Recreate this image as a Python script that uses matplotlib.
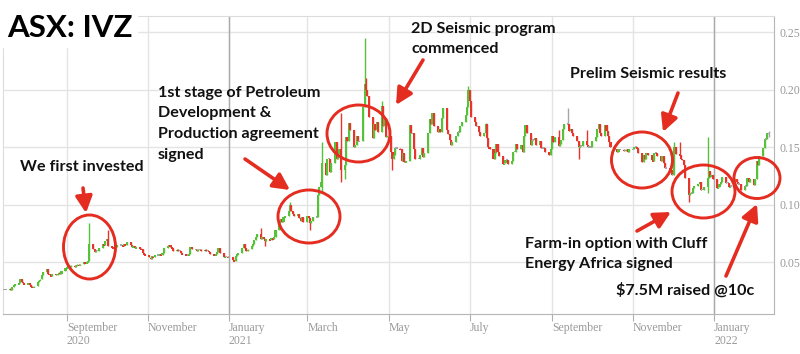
import matplotlib
matplotlib.use('Agg')
import matplotlib.pyplot as plt
import matplotlib.dates as mdates
import matplotlib.transforms as mtransforms
from matplotlib.patches import Ellipse, Rectangle
import numpy as np
import pandas as pd

# ---------------- data (daily closes in cents, business days from 2020-07-16) ----------------
closes_2020 = [
    2.6, 2.6,
    2.7, 2.6, 2.8, 3.0, 3.1,
    3.2, 3.5, 3.3, 3.2, 3.1,
    3.2, 3.0, 2.9, 2.8, 2.9,
    3.3, 3.4, 3.5, 3.9, 4.1,
    4.4, 4.0, 3.9, 3.8, 4.0,
    3.9, 4.0, 4.1, 4.0, 4.2,
    4.5, 4.6, 4.7, 4.6, 4.7,
    4.6, 4.7, 4.8, 4.7, 4.8,
    5.0, 4.9, 5.0, 5.1, 6.6,
    6.1, 5.9, 6.0, 6.0, 6.2,
    6.6, 6.5, 6.8, 7.0, 6.4,
    6.3, 6.2, 6.3, 6.3, 6.5,
    6.5, 6.4, 6.6, 6.5, 6.7,
    6.5, 6.3, 6.4, 6.2, 6.3,
    6.2, 6.1, 5.8, 5.7, 5.6,
    5.4, 5.3, 5.5, 5.4, 5.6,
    5.6, 5.7, 5.6, 5.8, 6.2,
    6.4, 6.5, 6.3, 6.2, 6.0,
    6.1, 6.0, 6.0, 5.8, 5.7,
    5.6, 5.6, 5.7, 6.3, 6.1,
    6.1, 6.0, 6.1, 6.1, 6.0,
    6.1, 6.0, 6.0, 5.9, 5.7,
    5.6, 5.7, 5.9, 6.2, 5.8,
    5.4, 5.5, 5.5, 5.4, 5.4,
]
closes_2021 = [
    5.2, 5.1, 5.5, 5.7, 5.8,
    6.2, 6.6, 6.2, 6.0, 6.1,
    6.4, 6.6, 6.9, 7.2, 7.4,
    7.0, 7.2, 7.0, 6.8, 7.0,
    6.9, 7.1, 7.0, 7.2, 7.8,
    8.5, 8.7, 8.5, 8.9, 9.0,
    9.4, 10.0, 9.4, 9.2, 9.0,
    9.2, 8.8, 8.6, 8.9, 8.5,
    9.0, 8.8, 8.4, 8.6, 8.9,
    8.9, 10.8, 11.5, 12.0, 13.6,
    12.6, 14.0, 14.0, 12.8, 13.6,
    15.4, 14.0, 14.4, 14.8, 13.0,
    13.4, 15.9, 15.5, 17.1, 16.5,
    15.0, 15.2, 16.0, 15.5, 15.5,
    18.5, 20.5, 20.0, 19.4, 17.6,
    15.8, 17.0, 16.5, 17.2, 16.3,
    18.6, 16.8, 17.5, 15.9, 16.0,
    14.6, 14.0, 14.3, 14.9, 14.9,
    14.8, 13.8, 14.5, 13.7, 13.8,
    16.9, 16.2, 16.2, 14.8, 14.0,
    14.0, 14.3, 14.9, 14.1, 14.5,
    16.2, 17.4, 17.0, 18.0, 16.8,
    16.3, 16.6, 16.3, 17.5, 18.4,
    16.5, 16.1, 15.6, 15.2, 15.4,
    16.0, 16.3, 16.3, 16.8, 17.2,
    17.8, 18.5, 20.0, 19.0, 17.6,
    17.2, 16.8, 16.8, 16.3, 16.0,
    16.2, 17.0, 15.8, 15.0, 14.8,
    14.0, 14.5, 15.3, 14.6, 14.2,
    13.5, 13.6, 13.9, 13.9, 13.5,
    13.8, 14.6, 14.6, 15.3, 14.8,
    15.2, 14.6, 16.0, 16.9, 16.2,
    15.2, 15.6, 15.6, 15.8, 15.2,
    15.5, 14.9, 14.9, 14.9, 14.6,
    14.3, 14.8, 16.0, 15.4, 15.9,
    15.1, 15.3, 15.6, 16.6, 17.0,
    17.0, 16.4, 16.6, 16.2, 16.0,
    15.5, 15.0, 15.1, 15.1, 15.5,
    15.2, 15.0, 15.0, 15.0, 15.5,
    15.9, 16.6, 17.0, 16.2, 16.0,
    16.9, 16.4, 16.0, 15.4, 15.0,
    14.8, 14.8, 14.6, 14.8, 14.8,
    14.7, 14.7, 14.8, 14.6, 14.8,
    14.8, 15.0, 15.0, 14.9, 14.5,
    13.7, 14.3, 14.0, 14.5, 14.3,
    13.9, 13.8, 14.5, 14.5, 14.2,
    13.8, 14.2, 13.6, 13.2, 13.2,
    13.0, 12.6, 12.6, 15.0, 14.4,
    14.3, 14.0, 13.9, 13.4, 12.3,
    10.8, 11.0, 11.0, 11.4, 11.6,
    11.8, 12.0, 11.3, 11.3, 11.5,
    12.3, 12.9, 12.4, 12.6, 12.2,
]
closes_2022 = [
    11.4, 11.5, 11.8, 12.0, 12.4,
    11.9, 11.9, 11.5, 11.6, 11.6,
    12.2, 12.0, 11.8, 11.8, 11.3,
    11.6, 11.6, 12.3, 12.0, 12.2,
    11.7, 12.2, 13.8, 13.4, 14.2,
    14.9, 15.7, 15.7, 16.2, 16.2,
]
# intraday extremes (cents) on notable days
wick_dates = ['2020-09-18', '2020-10-02', '2021-01-25', '2021-01-28', '2021-02-16',
              '2021-03-03', '2021-03-12', '2021-03-26', '2021-03-29', '2021-04-13',
              '2021-04-14', '2021-04-26', '2021-05-04', '2021-06-30', '2021-07-13',
              '2021-09-06', '2021-09-13', '2021-09-21', '2021-09-27', '2021-12-02',
              '2021-12-06', '2021-12-13', '2021-12-27', '2022-02-11']
wick_highs = [8.4, 7.8, 8.0, None, 10.2,
              None, 15.4, 18.0, None, 24.5,
              21.0, 19.0, None, 20.3, 17.1,
              16.5, 18.4, None, 16.5, 15.4,
              15.4, None, 15.9, 16.4]
wick_lows = [None, None, None, 6.4, None,
             7.8, 11.0, 12.0, 12.2, None,
             None, None, 13.0, None, None,
             None, None, 14.0, None, None,
             None, 10.2, 11.0, 15.9]

month_ticks = ['2020-09-01', '2020-11-01', '2021-01-01', '2021-03-01', '2021-05-01',
               '2021-07-01', '2021-09-01', '2021-11-01', '2022-01-01']
month_labels = ['September\n2020', 'November', 'January\n2021', 'March', 'May',
                'July', 'September', 'November', 'January\n2022']
price_ticks = [0.05, 0.10, 0.15, 0.20, 0.25]

# ---------------- build OHLC ----------------
dates = pd.bdate_range('2020-07-16', '2022-02-11')
closes = np.array(closes_2020 + closes_2021 + closes_2022) / 100.0
n = min(len(dates), len(closes))
dates = dates[:n]; closes = closes[:n]
opens = np.concatenate([[closes[0]], closes[:-1]])
highs = np.maximum(opens, closes)
lows = np.minimum(opens, closes)
for d, h, l in zip(wick_dates, wick_highs, wick_lows):
    i = dates.get_indexer([pd.Timestamp(d)])[0]
    if i >= 0:
        if h is not None:
            highs[i] = max(highs[i], h / 100.0)
        if l is not None:
            lows[i] = min(lows[i], l / 100.0)

GREEN = '#55c23a'
RED = '#e8352b'
GRAY = '#a6a6a6'
colors = np.where(closes > opens + 1e-9, GREEN, np.where(closes < opens - 1e-9, RED, GRAY))

x = mdates.date2num(dates)

fig = plt.figure(figsize=(8, 3.54), dpi=100)
ax = fig.add_axes([3/800, 40/354, 771/800, 298/354])

jan1 = mdates.date2num(pd.Timestamp('2021-01-01'))
ax.set_xlim(jan1 - 170.0, jan1 + 410.0)
ax.set_ylim(0.0048, 0.264)

# grid
ax.set_axisbelow(True)
ax.grid(True, color='#e4e4e4', lw=1.0)
for d in ['2021-01-01', '2022-01-01']:
    ax.axvline(mdates.date2num(pd.Timestamp(d)), color='#a9a9a9', lw=1.0, zorder=1)

# candles
ax.vlines(x, lows, highs, colors=colors, lw=1.0, zorder=3)
body_lo = np.minimum(opens, closes)
body_h = np.abs(closes - opens)
flat = body_h < 0.0013
body_lo = np.where(flat, body_lo - 0.00065, body_lo)
body_h = np.where(flat, 0.0013, body_h)
ax.bar(x, body_h, bottom=body_lo, width=1.55, color=colors, linewidth=0, zorder=3)

# axes styling
ax.set_xticks([mdates.date2num(pd.Timestamp(d)) for d in month_ticks])
ax.set_xticklabels(month_labels, family='Liberation Serif', fontsize=8.5, color='#9a9a9a',
                   ha='left', linespacing=1.2)
offset = mtransforms.ScaledTranslation(4/100, 0, fig.dpi_scale_trans)
for lab in ax.get_xticklabels():
    lab.set_transform(lab.get_transform() + offset)
ax.tick_params(axis='x', length=5, color='#b0b0b0', pad=0.5)
ax.yaxis.tick_right()
ax.set_yticks(price_ticks)
ax.set_yticklabels(['%.2f' % v for v in price_ticks], family='Liberation Serif',
                   fontsize=8.5, color='#9a9a9a')
ax.tick_params(axis='y', length=0, pad=4)
for s in ['left', 'top']:
    ax.spines[s].set_color('#dcdcdc')
for s in ['bottom', 'right']:
    ax.spines[s].set_color('#b5b5b5')

# ---------------- annotation overlay (pixel coordinates) ----------------
ov = fig.add_axes([0, 0, 1, 1])
ov.set_xlim(0, 800); ov.set_ylim(354, 0)
ov.axis('off'); ov.patch.set_alpha(0)

ARED = '#e42d20'
ov.add_patch(Rectangle((0, 0), 137, 47, color='white', zorder=1))
ov.text(7, 37, 'ASX: IVZ', fontsize=22.5, weight='bold', family='Lato', va='baseline', zorder=2)

for (cx, cy, w, h) in [(89.5, 247, 52, 64), (309, 216.5, 62, 53), (358.5, 133.5, 63, 57),
                       (642, 160, 61, 56), (703.5, 191.5, 63, 53), (757, 178, 46, 41)]:
    ov.add_patch(Ellipse((cx, cy), w, h, fill=False, edgecolor=ARED, lw=2.1, zorder=3))

for (sx, sy, ex, ey) in [(83, 188, 86, 213), (245, 159, 290, 190), (423, 60, 396, 105),
                         (678, 93, 663, 132), (637, 231, 671, 212), (726, 276, 757, 204)]:
    ov.annotate('', xy=(ex, ey), xytext=(sx, sy),
                arrowprops=dict(arrowstyle='-|>,head_length=0.55,head_width=0.28', color=ARED,
                                lw=2.6, shrinkA=0, shrinkB=0, mutation_scale=18), zorder=4)

tkw = dict(fontsize=11.6, weight='bold', family='Lato', va='baseline', color='#111111', zorder=5)
ov.text(20, 171, 'We first invested', **tkw)
for i, line in enumerate(['1st stage of Petroleum', 'Development &', 'Production agreement', 'signed']):
    ov.text(158, 96.5 + 20.7 * i, line, **tkw)
ov.text(411, 33, '2D Seismic program', **tkw)
ov.text(411, 53, 'commenced', **tkw)
ov.text(570, 78, 'Prelim Seismic results', **tkw)
ov.text(525, 248, 'Farm-in option with Cluff', **tkw)
ov.text(525, 268, 'Energy Africa signed', **tkw)
ov.text(616, 295, '$7.5M raised @10c', **tkw)

fig.savefig('out.png', dpi=100)
